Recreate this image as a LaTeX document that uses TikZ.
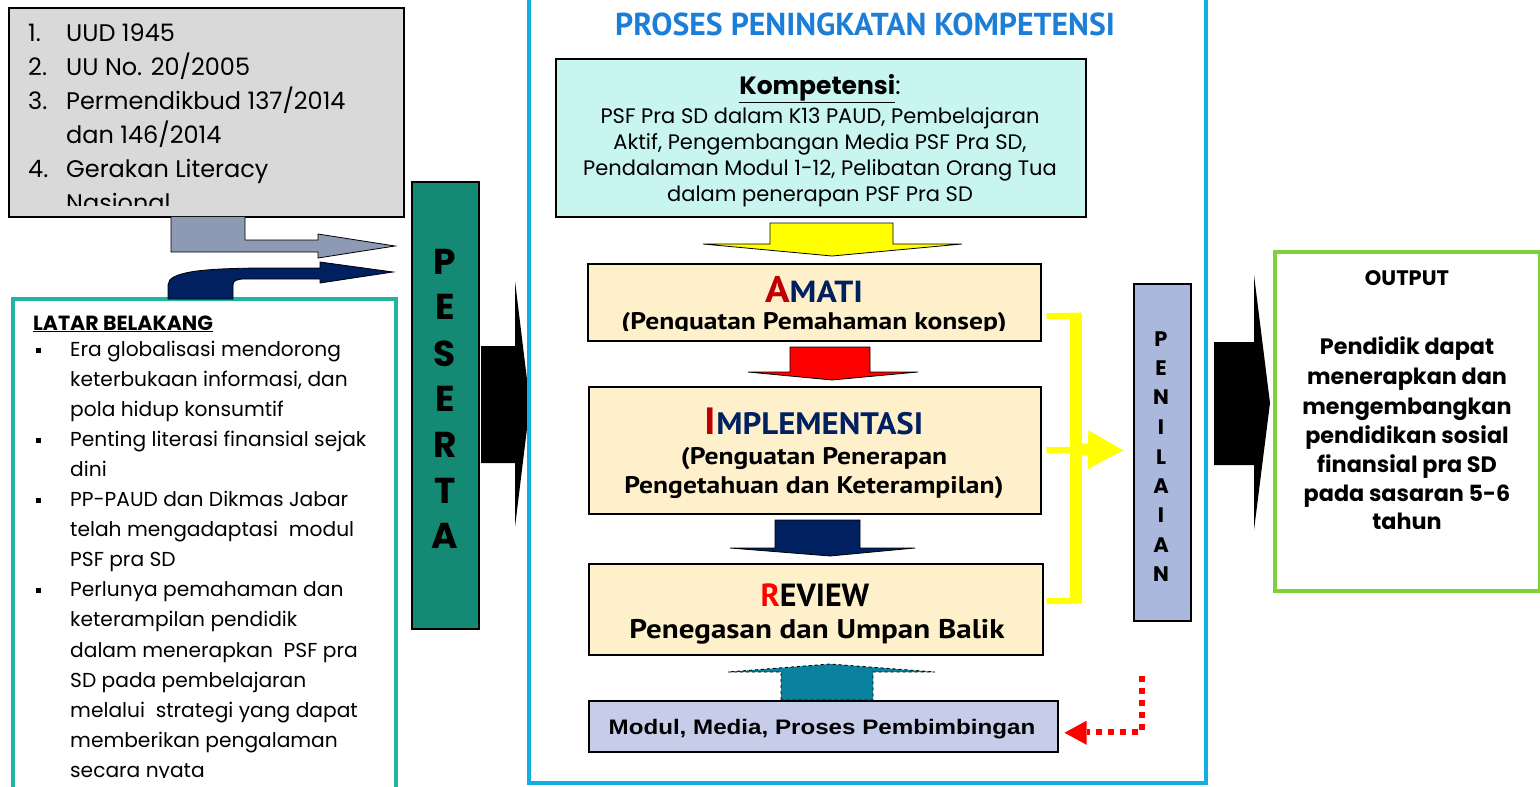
\documentclass[tikz,border=0pt]{standalone}
\usepackage{fontspec}
\setmainfont{Poppins}
\newfontfamily\twfont{PT Sans}
\newfontfamily\arialfont{Liberation Sans}
\usetikzlibrary{calc,arrows.meta}
\definecolor{lgray}{HTML}{D9D9D9}
\definecolor{slate}{HTML}{8E9AB3}
\definecolor{navy}{HTML}{002060}
\definecolor{tealb}{HTML}{1FB5A0}
\definecolor{pgreen}{HTML}{148A75}
\definecolor{procblue}{HTML}{12AEE2}
\definecolor{titleblue}{HTML}{1C7ED6}
\definecolor{kompfill}{HTML}{C8F5EF}
\definecolor{cream}{HTML}{FFF0CC}
\definecolor{darkred}{HTML}{C00000}
\definecolor{modfill}{HTML}{C5CDE8}
\definecolor{penfill}{HTML}{AAB8DD}
\definecolor{outgreen}{HTML}{7FD13B}
\definecolor{tealarrow}{HTML}{0A819F}
\definecolor{ylw}{HTML}{FFFF00}
\definecolor{brightred}{HTML}{FF0000}
\newcommand\wide[1]{\scalebox{1.15}[1]{#1}}
\tikzset{
  boxnw/.style={anchor=north west, inner sep=0pt, draw=black, line width=1.5pt},
  lawtxt/.style={anchor=base west, inner sep=0pt, font=\fontsize{24}{28}\selectfont},
  bgtxt/.style={anchor=base west, inner sep=0pt, font=\fontsize{20.2}{24}\selectfont},
  komptxt/.style={anchor=base, inner sep=0pt, font=\fontsize{21}{25}\selectfont},
  outtxt/.style={anchor=base, inner sep=0pt, font=\bfseries\fontsize{22.3}{26}\selectfont},
  twtxt/.style={anchor=base, inner sep=0pt, font=\twfont\bfseries\fontsize{24}{28}\selectfont},
  pletter/.style={inner sep=0pt, font=\bfseries\fontsize{36}{40}\selectfont},
  nletter/.style={inner sep=0pt, font=\bfseries\fontsize{21}{25}\selectfont},
  bullet/.style={fill=black, minimum size=5pt, inner sep=0pt},
  blockarrow/.style={draw=black, line width=0.8pt},
}
\begin{document}
\begin{tikzpicture}[x=1pt,y=-1pt]
\useasboundingbox (0,0) rectangle (1540,787);

% ---------- grey legal-basis box ----------
\node[boxnw, fill=lgray, minimum width=395pt, minimum height=209pt] (laws) at (8,7) {};
\node[lawtxt] (l1n) at (28,41) {1.};
\node[lawtxt] (l1t) at (66,41) {UUD 1945};
\node[lawtxt] (l2n) at (28,75) {2.};
\node[lawtxt] (l2t) at (66,75) {UU No. 20/2005};
\node[lawtxt] (l3n) at (28,109) {3.};
\node[lawtxt] (l3t) at (66,109) {Permendikbud 137/2014};
\node[lawtxt] (l3u) at (66,143) {dan 146/2014};
\node[lawtxt] (l4n) at (28,177) {4.};
\node[lawtxt] (l4t) at (66,177) {Gerakan Literacy};
\begin{scope}
  \clip (8,7) rectangle (403,205);
  \node[lawtxt] (l4u) at (66,211) {Nasional};
\end{scope}

% ---------- grey bent arrow ----------
\path[blockarrow, fill=slate] (171,216.8) -- (171,252) -- (318,252) -- (318,258) -- (395,246)
  -- (318,234) -- (318,240) -- (245,240) -- (245,216.8);

% ---------- latar belakang box ----------
\node[boxnw, draw=tealb, line width=4pt, fill=white, minimum width=383pt, minimum height=520pt] (latar) at (11,297) {};

% ---------- navy curved arrow ----------
\path[blockarrow, fill=navy] (168,299) -- (168,285) .. controls (168,272) and (200,268.5) .. (260,268)
  -- (320,268) -- (320,262) -- (393,272) -- (320,283) -- (320,279) -- (245,279)
  .. controls (236,279) and (233,281) .. (233,285) -- (233,299) -- cycle;

\node[anchor=base west, inner sep=0pt, font=\bfseries\fontsize{20.5}{24}\selectfont] (lbt) at (33,330) {\underline{LATAR BELAKANG}};
\node[bullet] (b1) at (38,350) {};
\node[bullet] (b2) at (38,440) {};
\node[bullet] (b3) at (38,500) {};
\node[bullet] (b4) at (38,590) {};
\node[bgtxt] (t1) at (70,356.5) {Era globalisasi mendorong};
\node[bgtxt] (t2) at (70,386.5) {keterbukaan informasi, dan};
\node[bgtxt] (t3) at (70,416.5) {pola hidup konsumtif};
\node[bgtxt] (t4) at (70,446.5) {Penting literasi finansial sejak};
\node[bgtxt] (t5) at (70,476.5) {dini};
\node[bgtxt] (t6) at (70,506.5) {PP-PAUD dan Dikmas Jabar};
\node[bgtxt] (t7) at (70,536.5) {telah mengadaptasi\ \ modul};
\node[bgtxt] (t8) at (70,566.5) {PSF pra SD};
\node[bgtxt] (t9) at (70,596.5) {Perlunya pemahaman dan};
\node[bgtxt] (t10) at (70,626.5) {keterampilan pendidik};
\node[bgtxt] (t11) at (70,657) {dalam menerapkan\ \ PSF pra};
\node[bgtxt] (t12) at (70,687) {SD pada pembelajaran};
\node[bgtxt] (t13) at (70,717) {melalui\ \ strategi yang dapat};
\node[bgtxt] (t14) at (70,747) {memberikan pengalaman};
\begin{scope}
  \clip (11,297) rectangle (394,777);
  \node[bgtxt] (t15) at (70,777.5) {secara nyata};
\end{scope}

% ---------- PESERTA ----------
\node[boxnw, fill=pgreen, minimum width=67pt, minimum height=447pt] (peserta) at (411,181) {};
\foreach \l/\yy [count=\i] in {P/262,E/307,S/354,E/399,R/445,T/491,A/536}
  \node[pletter] (pl\i) at (445,\yy) {\l};

% ---------- big black arrow 1 ----------
\path[fill=black] (481,346) -- (515,346) -- (515,281) -- (530,404) -- (515,527) -- (515,463) -- (481,463) -- cycle;

% ---------- process box ----------
\node[anchor=south west, inner sep=0pt, draw=procblue, line width=4pt, minimum width=677pt, minimum height=795pt] (proc) at (527,785) {};
\node[inner sep=0pt, text=titleblue, font=\twfont\bfseries\fontsize{31.7}{35}\selectfont] (title) at (865,24) {PROSES PENINGKATAN KOMPETENSI};

\node[boxnw, fill=kompfill, minimum width=530pt, minimum height=158pt] (komp) at (555,58) {};
\node[anchor=base, inner sep=0pt, font=\fontsize{25}{29}\selectfont] (kt) at (820,94) {\textbf{\underline{Kompetensi}}:};
\node[komptxt] (k1) at (820,123) {PSF Pra SD dalam K13 PAUD, Pembelajaran};
\node[komptxt] (k2) at (820,149) {Aktif, Pengembangan Media PSF Pra SD,};
\node[komptxt] (k3) at (820,175) {Pendalaman Modul 1-12, Pelibatan Orang Tua};
\node[komptxt] (k4) at (820,201) {dalam penerapan PSF Pra SD};

% yellow down arrow
\path[blockarrow, fill=ylw] (770,223) -- (893,223) -- (893,244) -- (962,244) -- (832,256) -- (703,244) -- (770,244) -- cycle;

% AMATI
\node[boxnw, fill=cream, minimum width=453pt, minimum height=77pt] (amati) at (587,263) {};
\node[inner sep=0pt, anchor=base, font=\twfont\bfseries] (amt) at (814,302) {\scalebox{1.1}[1]{{\fontsize{37}{40}\selectfont\color{darkred}A}{\fontsize{30.5}{34}\selectfont\color{navy}MATI}}};
\begin{scope}
  \clip (587,263) rectangle (1040,330.5);
  \node[twtxt] (ams) at (814,329) {\wide{(Penguatan Pemahaman konsep)}};
\end{scope}

% red arrow
\path[blockarrow, fill=brightred] (790,347) -- (870,347) -- (870,372) -- (918,372) -- (832,380) -- (748,372) -- (790,372) -- cycle;

% IMPLEMENTASI
\node[boxnw, fill=cream, minimum width=452pt, minimum height=127pt] (impl) at (588,386) {};
\node[inner sep=0pt, anchor=base, font=\twfont\bfseries] (imt) at (814,434) {\scalebox{1.06}[1]{{\fontsize{38}{40}\selectfont\color{darkred}I}{\fontsize{31}{34}\selectfont\color{navy}MPLEMENTASI}}};
\node[twtxt] (im1) at (814,464) {\wide{(Penguatan Penerapan}};
\node[twtxt] (im2) at (814,493) {\wide{Pengetahuan dan Keterampilan)}};

% navy arrow
\path[blockarrow, fill=navy] (775,520) -- (860,520) -- (860,548) -- (915,548) -- (830,556) -- (730,548) -- (775,548) -- cycle;

% REVIEW
\node[boxnw, fill=cream, minimum width=454pt, minimum height=91pt] (review) at (588,563) {};
\node[inner sep=0pt, anchor=base, font=\twfont\bfseries\fontsize{32}{34}\selectfont] (rvt) at (815,606) {{\color{brightred}R}EVIEW};
\node[anchor=base, inner sep=0pt, font=\twfont\bfseries\fontsize{27}{30}\selectfont] (rvs) at (817,638) {\wide{Penegasan dan Umpan Balik}};

% teal dashed up arrow
\path[draw=black, dashed, line width=0.9pt, fill=tealarrow] (781,700) -- (781,672) -- (728,672) -- (830,664) -- (935,672) -- (873,672) -- (873,700) -- cycle;

% Modul box
\node[boxnw, fill=modfill, minimum width=469pt, minimum height=51pt] (modul) at (588,700) {};
\node[inner sep=0pt, anchor=base, font=\arialfont\bfseries\fontsize{21}{24}\selectfont] (mt) at (822,734) {\scalebox{1.15}[1]{Modul, Media, Proses Pembimbingan}};

% PENILAIAN
\node[boxnw, fill=penfill, minimum width=57pt, minimum height=337pt] (pen) at (1133,283) {};
\foreach \l/\yy [count=\i] in {P/339,E/368,N/397,I/427,L/457,A/486,I/515,A/545,N/574}
  \node[nletter] (nl\i) at (1161,\yy) {\l};

% yellow bracket
\coordinate (yb1) at (1076,315.5);
\coordinate (yb2) at (1076,600.5);
\draw[ylw, line width=6pt] ($(amati.east)+(5,14)$) -- (1082,315.5);
\draw[ylw, line width=6pt] ($(review.east)+(3,-8)$) -- (1082,600.5);
\draw[ylw, line width=6pt] ($(impl.east)+(5,0)$) -- (1082,449.5);
\draw[ylw, line width=12pt] (yb1) -- (yb2);
\draw[ylw, line width=12pt, -{Triangle[length=36pt,width=36pt]}] (1076,449.5) -- ($(pen.west)+(-9,-2)$);

% red dotted feedback arrow
\coordinate (rd) at (1142,676);
\draw[brightred, line width=6pt, dash pattern=on 6pt off 6pt] (rd) |- ($(modul.east)+(28,6)$);
\fill[brightred] ($(modul.east)+(6,6.5)$) -- ++(22,-12) -- ++(0,24) -- cycle;

% big black arrow 2
\path[fill=black] (1214,342) -- (1254,342) -- (1254,275) -- (1270,403) -- (1254,530) -- (1254,465) -- (1214,465) -- cycle;

% OUTPUT box
\node[boxnw, draw=outgreen, line width=4pt, fill=white, minimum width=265pt, minimum height=339pt] (out) at (1273,250) {};
\node[inner sep=0pt, font=\bfseries\fontsize{21}{25}\selectfont] (ot) at (1407,278) {OUTPUT};
\node[outtxt] (o1) at (1407,354) {Pendidik dapat};
\node[outtxt] (o2) at (1407,384) {menerapkan dan};
\node[outtxt] (o3) at (1407,414) {mengembangkan};
\node[outtxt] (o4) at (1407,443) {pendidikan sosial};
\node[outtxt] (o5) at (1407,472) {finansial pra SD};
\node[outtxt] (o6) at (1407,501) {pada sasaran 5-6};
\node[outtxt] (o7) at (1407,529) {tahun};
\end{tikzpicture}
\end{document}
